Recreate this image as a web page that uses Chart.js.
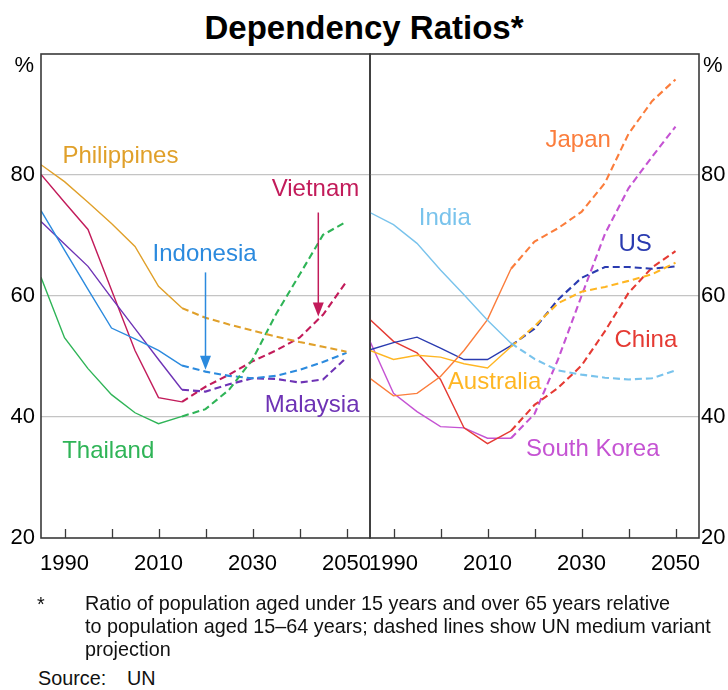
<!DOCTYPE html>
<html>
<head>
<meta charset="utf-8">
<script src="https://cdn.jsdelivr.net/npm/chart.js@4.4.0/dist/chart.umd.min.js"></script>
<style>
  body { margin: 0; background: #fff; width: 728px; height: 690px; position: relative; overflow: hidden;
         font-family: 'Liberation Sans', Arial, sans-serif; color: #000; }
  #title { position: absolute; top: 9px; left: 0; width: 728px; text-align: center;
           font-weight: bold; font-size: 33px; line-height: 38px; }
  #left { position: absolute; left: 0; top: 0; }
  #right { position: absolute; left: 369px; top: 0; }
  .note { position: absolute; font-size: 19.8px; line-height: 23px; color: #111; white-space: nowrap; }
</style>
</head>
<body>
<div id="title">Dependency Ratios*</div>
<canvas id="left" width="371" height="600"></canvas>
<canvas id="right" width="359" height="600"></canvas>
<div class="note" style="left:37px; top:593px;">*</div>
<div class="note" style="left:85px; top:592px;">Ratio of population aged under 15 years and over 65 years relative<br>to population aged 15–64 years; dashed lines show UN medium variant<br>projection</div>
<div class="note" style="left:38px; top:667px;">Source:</div>
<div class="note" style="left:127px; top:667px;">UN</div>
<script>
// Years of the UN series (history to 2015, projection after)
const YEARS = [1985, 1990, 1995, 2000, 2005, 2010, 2015, 2020, 2025, 2030, 2035, 2040, 2045, 2050];
const PROJ_START = 2015;
const TICK_YEARS = [1990, 2000, 2010, 2020, 2030, 2040, 2050];
const LABEL_YEARS = [1990, 2010, 2030, 2050];

// Left panel - per cent
const philippines = [81.7, 78.9, 75.5, 72.0, 68.2, 61.6, 58.0, 56.4, 55.3, 54.3, 53.3, 52.4, 51.6, 50.8];
const vietnam     = [80.1, 75.5, 71.0, 61.0, 51.0, 43.2, 42.5, 45.0, 47.0, 49.2, 51.0, 53.1, 56.9, 62.4];
const indonesia   = [74.1, 67.6, 61.1, 54.7, 52.9, 51.0, 48.5, 47.5, 46.8, 46.4, 46.8, 47.8, 49.1, 50.6];
const malaysia    = [72.3, 68.6, 64.9, 59.7, 54.6, 49.5, 44.5, 44.2, 45.4, 46.4, 46.3, 45.7, 46.2, 49.8];
const thailand    = [63.1, 53.1, 48.0, 43.7, 40.7, 38.9, 40.1, 41.3, 44.5, 49.5, 57.0, 63.5, 70.1, 72.3];

// Right panel - per cent
const india       = [73.8, 71.8, 68.7, 64.3, 60.2, 56.0, 52.2, 49.6, 47.7, 47.0, 46.5, 46.2, 46.4, 47.7];
const japan       = [46.4, 43.5, 43.9, 46.7, 51.0, 56.1, 64.5, 69.0, 71.2, 73.9, 78.7, 86.8, 92.2, 95.8];
const us          = [51.1, 52.3, 53.2, 51.4, 49.5, 49.5, 51.8, 54.6, 59.4, 63.0, 64.8, 64.8, 64.5, 64.9];
const australia   = [51.0, 49.5, 50.2, 49.9, 48.8, 48.1, 51.6, 55.0, 58.8, 60.7, 61.5, 62.5, 63.6, 65.5];
const china       = [56.1, 52.5, 50.6, 46.2, 38.2, 35.6, 37.7, 42.0, 44.8, 48.5, 54.2, 60.5, 64.7, 67.4];
const southKorea  = [52.5, 43.9, 40.9, 38.4, 38.2, 36.5, 36.5, 40.5, 49.5, 60.0, 70.3, 77.8, 83.0, 88.0];

const COLORS = {
    philippines: '#e0a02a', vietnam: '#c21b5a', indonesia: '#2b8ade', malaysia: '#6e33b5',
    thailand: '#2fb457', india: '#79c3ec', japan: '#fb7d3c', us: '#2a3bb0',
    australia: '#ffb623', china: '#e53a33', southKorea: '#c553d3'
};

const FONT = "'Liberation Sans', Arial, sans-serif";
Chart.defaults.font.family = FONT;

function series(values, color) {
    return {
        data: YEARS.map((yr, i) => ({ x: yr, y: values[i] })),
        borderColor: color,
        pointRadius: 0,
        tension: 0,
        borderWidth: 1.4,
        segment: {
            borderDash: ctx => ctx.p0.parsed.x >= PROJ_START ? [7, 4] : undefined,
            borderWidth: ctx => ctx.p0.parsed.x >= PROJ_START ? 2.1 : 1.4
        }
    };
}

// Frame, inward x tick marks, unit label, series names and arrows
const decorations = {
    id: 'decorations',
    afterDatasetsDraw(chart, args, opts) {
        const { ctx, chartArea: a, scales: { x, y } } = chart;
        ctx.save();
        ctx.strokeStyle = '#3a3a3a';
        ctx.lineWidth = 1.6;
        ctx.strokeRect(a.left, a.top, a.right - a.left, a.bottom - a.top);
        ctx.lineWidth = 1.3;
        TICK_YEARS.forEach(yr => {
            const px = Math.round(x.getPixelForValue(yr)) + 0.5;
            ctx.beginPath();
            ctx.moveTo(px, a.bottom);
            ctx.lineTo(px, a.bottom - 9);
            ctx.stroke();
        });

        ctx.fillStyle = '#000';
        ctx.font = '22px ' + FONT;
        ctx.textBaseline = 'middle';
        const uy = y.getPixelForValue(100) + 12;
        if (opts.side === 'left') {
            ctx.textAlign = 'right';
            ctx.fillText('%', a.left - 7, uy);
        } else {
            ctx.textAlign = 'left';
            ctx.fillText('%', a.right + 4, uy);
        }

        ctx.font = '24px ' + FONT;
        ctx.textAlign = 'center';
        (opts.labels || []).forEach(l => {
            ctx.fillStyle = l.color;
            ctx.fillText(l.text, x.getPixelForValue(l.year), y.getPixelForValue(l.value));
        });

        (opts.arrows || []).forEach(ar => {
            const px = x.getPixelForValue(ar.year);
            const y0 = y.getPixelForValue(ar.from);
            const y1 = y.getPixelForValue(ar.to);
            ctx.strokeStyle = ar.color;
            ctx.fillStyle = ar.color;
            ctx.lineWidth = 1.5;
            ctx.beginPath();
            ctx.moveTo(px, y0);
            ctx.lineTo(px, y1 - 10);
            ctx.stroke();
            ctx.beginPath();
            ctx.moveTo(px - 5.5, y1 - 14);
            ctx.lineTo(px + 5.5, y1 - 14);
            ctx.lineTo(px, y1);
            ctx.closePath();
            ctx.fill();
        });
        ctx.restore();
    }
};

function buildChart(canvasId, side, datasets, labels, arrows) {
    const isLeft = side === 'left';
    return new Chart(document.getElementById(canvasId), {
        type: 'line',
        data: { datasets: datasets },
        options: {
            responsive: false,
            animation: false,
            layout: { padding: { top: 54, left: isLeft ? 0 : 1, right: isLeft ? 1 : 0, bottom: 0 } },
            plugins: {
                legend: { display: false },
                tooltip: { enabled: false },
                decorations: { side: side, labels: labels, arrows: arrows }
            },
            scales: {
                x: {
                    type: 'linear',
                    min: 1985,
                    max: 2055,
                    afterBuildTicks: axis => { axis.ticks = TICK_YEARS.map(v => ({ value: v })); },
                    afterFit: axis => {
                        axis.height = 62;
                        // labels sit inside the panel width, no extra side padding
                        axis.paddingLeft = 0;
                        axis.paddingRight = 0;
                    },
                    grid: { display: false },
                    border: { display: false },
                    ticks: {
                        autoSkip: false,
                        maxRotation: 0,
                        padding: 5,
                        color: '#000',
                        font: { size: 22 },
                        callback: v => LABEL_YEARS.includes(v) ? String(v) : ''
                    }
                },
                y: {
                    position: side,
                    min: 20,
                    max: 100,
                    afterFit: axis => {
                        axis.width = isLeft ? 41 : 29;
                        axis.paddingTop = 0;
                        axis.paddingBottom = 0;
                    },
                    border: { display: false },
                    grid: {
                        drawTicks: false,
                        lineWidth: 1.3,
                        color: c => (c.tick.value > 20 && c.tick.value < 100) ? '#c4c4c4' : 'rgba(0,0,0,0)'
                    },
                    ticks: {
                        stepSize: 20,
                        padding: isLeft ? 6 : 2,
                        color: '#000',
                        font: { size: 22 },
                        callback: v => v === 100 ? '' : String(v)
                    }
                }
            }
        },
        plugins: [decorations]
    });
}

buildChart('left', 'left', [
    series(philippines, COLORS.philippines),
    series(thailand, COLORS.thailand),
    series(indonesia, COLORS.indonesia),
    series(malaysia, COLORS.malaysia),
    series(vietnam, COLORS.vietnam)
], [
    { text: 'Philippines', year: 2001.9, value: 83.0, color: COLORS.philippines },
    { text: 'Vietnam', year: 2043.4, value: 77.6, color: COLORS.vietnam },
    { text: 'Indonesia', year: 2019.8, value: 66.8, color: COLORS.indonesia },
    { text: 'Malaysia', year: 2042.7, value: 42.0, color: COLORS.malaysia },
    { text: 'Thailand', year: 1999.3, value: 34.4, color: COLORS.thailand }
], [
    { year: 2020, from: 63.9, to: 47.8, color: COLORS.indonesia },
    { year: 2044, from: 73.8, to: 56.6, color: COLORS.vietnam }
]);

buildChart('right', 'right', [
    series(india, COLORS.india),
    series(japan, COLORS.japan),
    series(australia, COLORS.australia),
    series(us, COLORS.us),
    series(china, COLORS.china),
    series(southKorea, COLORS.southKorea)
], [
    { text: 'Japan', year: 2029.3, value: 85.8, color: COLORS.japan },
    { text: 'India', year: 2000.9, value: 72.8, color: COLORS.india },
    { text: 'US', year: 2041.4, value: 68.6, color: COLORS.us },
    { text: 'China', year: 2043.7, value: 52.6, color: COLORS.china },
    { text: 'Australia', year: 2011.5, value: 45.8, color: COLORS.australia },
    { text: 'South Korea', year: 2032.4, value: 34.6, color: COLORS.southKorea }
], []);
</script>
</body>
</html>
